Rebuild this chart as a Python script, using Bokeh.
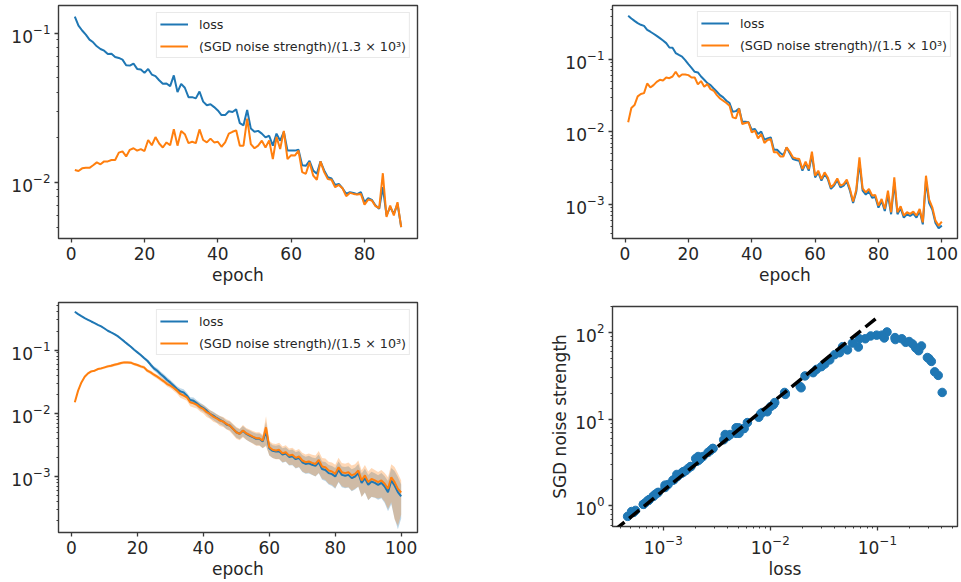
from bokeh.plotting import figure
from bokeh.models import Range1d, FixedTicker, LogTickFormatter, Legend, LegendItem
from bokeh.layouts import row, column
from bokeh.embed import file_html
from bokeh.resources import INLINE

# ---------------- data ----------------
# panel 1 (top-left): 90 epochs
epochs1 = list(range(1, 91))
loss1 = [0.129, 0.112, 0.104, 0.0975, 0.0903, 0.0867, 0.0815, 0.0782, 0.0762, 0.0724,
         0.0728, 0.0692, 0.0681, 0.0664, 0.0608, 0.0605, 0.0625, 0.0575, 0.0570, 0.0541,
         0.0575, 0.0527, 0.0514, 0.0483, 0.0457, 0.0459, 0.0441, 0.0520, 0.0402, 0.0457,
         0.0430, 0.0372, 0.0372, 0.0365, 0.0406, 0.0347, 0.0328, 0.0333, 0.0319, 0.0303,
         0.0282, 0.0282, 0.0299, 0.0296, 0.0308, 0.0249, 0.0241, 0.0305, 0.0229, 0.0218,
         0.0221, 0.0212, 0.0200, 0.0205, 0.0176, 0.0212, 0.0190, 0.0218, 0.0163, 0.0163,
         0.0163, 0.0165, 0.0130, 0.0129, 0.0139, 0.0120, 0.0114, 0.0138, 0.0120, 0.0108,
         0.0106, 0.00960, 0.00975, 0.00912, 0.00836, 0.00858, 0.00849, 0.00832, 0.00858, 0.00736,
         0.00782, 0.00762, 0.00699, 0.00664, 0.00927, 0.00600, 0.00681, 0.00615, 0.00717, 0.00501]
noise1 = [0.0121, 0.0119, 0.0124, 0.0125, 0.0125, 0.0130, 0.0136, 0.0132, 0.0138, 0.0138,
          0.0141, 0.0141, 0.0158, 0.0161, 0.0149, 0.0165, 0.0169, 0.0163, 0.0167, 0.0162,
          0.0192, 0.0177, 0.0201, 0.0182, 0.0171, 0.0185, 0.0177, 0.0227, 0.0176, 0.0221,
          0.0210, 0.0183, 0.0187, 0.0183, 0.0226, 0.0192, 0.0185, 0.0196, 0.0185, 0.0187,
          0.0173, 0.0185, 0.0212, 0.0218, 0.0223, 0.0176, 0.0176, 0.0267, 0.0180, 0.0169,
          0.0176, 0.0190, 0.0171, 0.0191, 0.0143, 0.0201, 0.0167, 0.0221, 0.0143, 0.0152,
          0.0151, 0.0163, 0.0117, 0.0114, 0.0136, 0.0111, 0.0104, 0.0138, 0.0117, 0.0105,
          0.0104, 0.00927, 0.00960, 0.00912, 0.00807, 0.00849, 0.00836, 0.00828, 0.00836, 0.00707,
          0.00766, 0.00755, 0.00692, 0.00671, 0.0115, 0.00585, 0.00699, 0.00600, 0.00736, 0.00501]
label1 = "(SGD noise strength)/(1.3 × 10³)"

# panel 2 (top-right): 100 epochs; also used for the scatter (panel 4)
epochs2 = list(range(1, 101))
loss2 = [0.403, 0.370, 0.343, 0.319, 0.303, 0.293, 0.258, 0.243, 0.228, 0.213,
         0.198, 0.184, 0.169, 0.147, 0.146, 0.123, 0.116, 0.110, 0.0984, 0.0866,
         0.0770, 0.0678, 0.0664, 0.0584, 0.0526, 0.0473, 0.0444, 0.0399, 0.0359, 0.0323,
         0.0300, 0.0270, 0.0251, 0.0190, 0.0194, 0.0211, 0.0138, 0.0138, 0.0136, 0.0107,
         0.0110, 0.00935, 0.0101, 0.00780, 0.00814, 0.00841, 0.00568, 0.00568, 0.00511, 0.00479,
         0.00611, 0.00505, 0.00422, 0.00408, 0.00400, 0.00291, 0.00367, 0.00291, 0.00479, 0.00235,
         0.00276, 0.00212, 0.00262, 0.00223, 0.00163, 0.00181, 0.00216, 0.00171, 0.00181, 0.00207,
         0.00154, 0.00104, 0.00149, 0.00379, 0.00154, 0.00136, 0.00151, 0.00123, 0.00126, 0.000898,
         0.00111, 0.000807, 0.00134, 0.000727, 0.00201, 0.000727, 0.000879, 0.000653, 0.000727, 0.000689,
         0.000741, 0.000653, 0.000807, 0.000528, 0.00212, 0.00104, 0.000843, 0.000551, 0.000465, 0.000506]
noise2 = [0.0136, 0.0214, 0.0235, 0.0310, 0.0334, 0.0344, 0.0468, 0.0412, 0.0444, 0.0493,
          0.0526, 0.0515, 0.0566, 0.0554, 0.0584, 0.0678, 0.0578, 0.0623, 0.0623, 0.0610,
          0.0566, 0.0566, 0.0454, 0.0505, 0.0421, 0.0458, 0.0391, 0.0371, 0.0323, 0.0290,
          0.0270, 0.0251, 0.0230, 0.0159, 0.0154, 0.0211, 0.0129, 0.0133, 0.0136, 0.00984,
          0.0104, 0.00814, 0.00935, 0.00703, 0.00773, 0.00798, 0.00522, 0.00522, 0.00459, 0.00459,
          0.00611, 0.00532, 0.00445, 0.00431, 0.00422, 0.00307, 0.00387, 0.00307, 0.00532, 0.00248,
          0.00291, 0.00223, 0.00276, 0.00235, 0.00171, 0.00190, 0.00228, 0.00181, 0.00190, 0.00219,
          0.00163, 0.00109, 0.00159, 0.00445, 0.00166, 0.00146, 0.00163, 0.00132, 0.00134, 0.000958,
          0.00118, 0.000861, 0.00154, 0.000775, 0.00235, 0.000775, 0.000937, 0.000697, 0.000775, 0.000735,
          0.000791, 0.000697, 0.000861, 0.000562, 0.00248, 0.00116, 0.000908, 0.000593, 0.000506, 0.000575]
noise_scale2 = 1500.0
label2 = "(SGD noise strength)/(1.5 × 10³)"

# panel 3 (bottom-left): mean curves and relative spread of the bands
epochs3 = list(range(1, 101))
loss3 = [0.403, 0.370, 0.344, 0.320, 0.301, 0.283, 0.267, 0.251, 0.236, 0.219,
         0.202, 0.190, 0.179, 0.166, 0.151, 0.137, 0.124, 0.113, 0.101, 0.0918,
         0.0832, 0.0746, 0.0677, 0.0586, 0.0513, 0.0471, 0.0418, 0.0379, 0.0336, 0.0305,
         0.0273, 0.0242, 0.0222, 0.0214, 0.0190, 0.0162, 0.0158, 0.0144, 0.0130, 0.0121,
         0.0110, 0.00975, 0.00918, 0.00843, 0.00785, 0.00739, 0.00663, 0.00639, 0.00566, 0.00501,
         0.00472, 0.00530, 0.00472, 0.00444, 0.00418, 0.00394, 0.00394, 0.00357, 0.00520, 0.00280,
         0.00254, 0.00248, 0.00251, 0.00222, 0.00231, 0.00204, 0.00209, 0.00188, 0.00197, 0.00168,
         0.00158, 0.00162, 0.00153, 0.00147, 0.00168, 0.00131, 0.00127, 0.00113, 0.00109, 0.00100,
         0.00127, 0.00106, 0.00103, 0.00106, 0.000942, 0.00100, 0.00113, 0.000794, 0.000942, 0.000738,
         0.000833, 0.000794, 0.000738, 0.000794, 0.000695, 0.000565, 0.000865, 0.000721, 0.000565, 0.000483]
noise3 = [0.0149, 0.0228, 0.0308, 0.0379, 0.0428, 0.0460, 0.0471, 0.0501, 0.0513, 0.0532,
          0.0552, 0.0565, 0.0586, 0.0600, 0.0622, 0.0638, 0.0638, 0.0631, 0.0600, 0.0579,
          0.0552, 0.0532, 0.0471, 0.0444, 0.0407, 0.0379, 0.0348, 0.0320, 0.0290, 0.0273,
          0.0251, 0.0228, 0.0202, 0.0190, 0.0179, 0.0149, 0.0144, 0.0137, 0.0124, 0.0117,
          0.0104, 0.00975, 0.00885, 0.00833, 0.00766, 0.00739, 0.00680, 0.00639, 0.00566, 0.00501,
          0.00472, 0.00535, 0.00483, 0.00455, 0.00428, 0.00403, 0.00403, 0.00370, 0.00600, 0.00290,
          0.00264, 0.00257, 0.00264, 0.00233, 0.00242, 0.00214, 0.00220, 0.00197, 0.00207, 0.00179,
          0.00168, 0.00173, 0.00164, 0.00158, 0.00183, 0.00144, 0.00140, 0.00124, 0.00120, 0.00110,
          0.00140, 0.00117, 0.00113, 0.00117, 0.00104, 0.00110, 0.00124, 0.000865, 0.00104, 0.000813,
          0.000918, 0.000865, 0.000813, 0.000865, 0.000766, 0.000638, 0.000975, 0.000813, 0.000638, 0.000558]
loss3_rstd = [0.015, 0.015, 0.015, 0.015, 0.015, 0.015, 0.015, 0.015, 0.015, 0.015,
              0.02, 0.02, 0.02, 0.02, 0.02, 0.02, 0.02, 0.02, 0.02, 0.02,
              0.04, 0.05, 0.06, 0.07, 0.08, 0.09, 0.10, 0.10, 0.10, 0.10,
              0.10, 0.11, 0.12, 0.12, 0.11, 0.11, 0.12, 0.12, 0.13, 0.13,
              0.13, 0.14, 0.15, 0.15, 0.15, 0.15, 0.16, 0.16, 0.17, 0.18,
              0.18, 0.19, 0.19, 0.20, 0.20, 0.21, 0.21, 0.22, 0.40, 0.23,
              0.23, 0.24, 0.25, 0.26, 0.26, 0.27, 0.28, 0.29, 0.29, 0.30,
              0.30, 0.31, 0.31, 0.32, 0.33, 0.32, 0.33, 0.34, 0.35, 0.36,
              0.36, 0.36, 0.37, 0.37, 0.38, 0.38, 0.39, 0.40, 0.41, 0.43,
              0.43, 0.42, 0.42, 0.43, 0.45, 0.50, 0.58, 0.70, 0.74, 0.55]
noise3_rstd = [0.03, 0.03, 0.035, 0.04, 0.04, 0.04, 0.04, 0.04, 0.045, 0.045,
               0.05, 0.05, 0.05, 0.05, 0.05, 0.05, 0.05, 0.05, 0.05, 0.05,
               0.055, 0.06, 0.065, 0.07, 0.07, 0.075, 0.08, 0.08, 0.085, 0.09,
               0.10, 0.11, 0.13, 0.12, 0.12, 0.13, 0.14, 0.13, 0.14, 0.15,
               0.16, 0.16, 0.17, 0.16, 0.18, 0.18, 0.18, 0.19, 0.20, 0.21,
               0.21, 0.22, 0.21, 0.22, 0.23, 0.24, 0.24, 0.24, 0.50, 0.26,
               0.26, 0.27, 0.29, 0.28, 0.29, 0.29, 0.30, 0.31, 0.32, 0.33,
               0.33, 0.34, 0.35, 0.36, 0.38, 0.36, 0.37, 0.38, 0.39, 0.40,
               0.41, 0.40, 0.41, 0.42, 0.43, 0.42, 0.44, 0.45, 0.46, 0.48,
               0.48, 0.46, 0.45, 0.46, 0.48, 0.52, 0.60, 0.74, 0.74, 0.55]
label3 = "(SGD noise strength)/(1.5 × 10³)"

# panel 4 (bottom-right): fitted line  noise = fit_coef * loss
fit_coef = 1500.0
fit_loss = [3.5e-4, 0.1]

# tick labels / positions
epoch_ticks1 = [0, 20, 40, 60, 80]
epoch_ticks = [0, 20, 40, 60, 80, 100]

# ---------------- style ----------------
BLUE = "#1f77b4"
ORANGE = "#ff7f0e"
FONT = "DejaVu Sans"
INK = "#262626"
LW = 2.0


def decade_minors(k0, k1):
    return [m * 10.0 ** k for k in range(k0, k1 + 1) for m in range(2, 10)]


def make_fig(w, h, xr, yr, left, right, top, bottom, x_log=False):
    p = figure(width=w, height=h, x_range=xr, y_range=yr,
               x_axis_type="log" if x_log else "linear", y_axis_type="log",
               output_backend="svg", toolbar_location=None,
               min_border_left=left, min_border_right=right,
               min_border_top=top, min_border_bottom=bottom)
    p.outline_line_color = "#3a3a3a"
    p.outline_line_width = 1.4
    p.grid.visible = False
    p.background_fill_color = "white"
    p.border_fill_color = "white"
    for ax in p.axis:
        ax.axis_line_color = None
        ax.major_tick_line_color = "#3a3a3a"
        ax.major_tick_line_width = 1.3
        ax.minor_tick_line_color = "#3a3a3a"
        ax.minor_tick_line_width = 1.0
        ax.major_tick_in = 0
        ax.major_tick_out = 4
        ax.minor_tick_in = 0
        ax.minor_tick_out = 2
        ax.major_label_text_font = FONT
        ax.major_label_text_font_size = "17px"
        ax.major_label_text_color = INK
        ax.axis_label_text_font = FONT
        ax.axis_label_text_font_size = "17px"
        ax.axis_label_text_font_style = "normal"
        ax.axis_label_text_color = INK
        ax.major_label_standoff = 4
        ax.axis_label_standoff = 2
    return p


def log_axis(ax, majors, minors):
    ax.ticker = FixedTicker(ticks=majors, minor_ticks=minors)
    ax.formatter = LogTickFormatter()


def lin_axis(ax, majors):
    ax.ticker = FixedTicker(ticks=majors, minor_ticks=[])


def add_legend(p, items, margin):
    lg = Legend(items=items, location="top_right")
    lg.margin = margin
    lg.padding = 3
    lg.spacing = 6
    lg.glyph_width = 28
    lg.glyph_height = 16
    lg.label_height = 16
    lg.label_standoff = 11
    lg.label_text_font = FONT
    lg.label_text_font_size = "12.7px"
    lg.label_text_color = INK
    lg.border_line_color = "#d4d4d4"
    lg.border_line_width = 1
    lg.background_fill_alpha = 0.85
    p.add_layout(lg)


# ---------------- panel 1 ----------------
p1 = make_fig(437, 290, Range1d(-3.45, 94.45), Range1d(0.0042, 0.153), 58, 20, 5, 52)
r1a = p1.line(epochs1, loss1, line_color=BLUE, line_width=LW)
r1b = p1.line(epochs1, noise1, line_color=ORANGE, line_width=LW)
lin_axis(p1.xaxis[0], epoch_ticks1)
log_axis(p1.yaxis[0], [0.01, 0.1], decade_minors(-3, -1))
p1.xaxis.axis_label = "epoch"
add_legend(p1, [LegendItem(label="loss", renderers=[r1a]),
                LegendItem(label=label1, renderers=[r1b])], 7)

# ---------------- panel 2 ----------------
p2 = make_fig(523, 290, Range1d(-3.95, 104.95), Range1d(3.36e-4, 0.56), 166, 1, 5, 52)
r2a = p2.line(epochs2, loss2, line_color=BLUE, line_width=LW)
r2b = p2.line(epochs2, noise2, line_color=ORANGE, line_width=LW)
lin_axis(p2.xaxis[0], epoch_ticks)
log_axis(p2.yaxis[0], [0.001, 0.01, 0.1], decade_minors(-4, -1))
p2.xaxis.axis_label = "epoch"
add_legend(p2, [LegendItem(label="loss", renderers=[r2a]),
                LegendItem(label=label2, renderers=[r2b])], 6)

# ---------------- panel 3 ----------------
p3 = make_fig(437, 291, Range1d(-3.95, 104.95), Range1d(1.3e-4, 0.565), 58, 20, 12, 49)
loss3_lo = [m * (1 - r) for m, r in zip(loss3, loss3_rstd)]
loss3_hi = [m * (1 + r) for m, r in zip(loss3, loss3_rstd)]
noise3_lo = [m * (1 - r) for m, r in zip(noise3, noise3_rstd)]
noise3_hi = [m * (1 + r) for m, r in zip(noise3, noise3_rstd)]
p3.varea(x=epochs3, y1=loss3_lo, y2=loss3_hi, fill_color=BLUE, fill_alpha=0.3)
p3.varea(x=epochs3, y1=noise3_lo, y2=noise3_hi, fill_color=ORANGE, fill_alpha=0.3)
r3a = p3.line(epochs3, loss3, line_color=BLUE, line_width=LW)
r3b = p3.line(epochs3, noise3, line_color=ORANGE, line_width=LW)
lin_axis(p3.xaxis[0], epoch_ticks)
log_axis(p3.yaxis[0], [0.001, 0.01, 0.1], decade_minors(-4, -1))
p3.xaxis.axis_label = "epoch"
add_legend(p3, [LegendItem(label="loss", renderers=[r3a]),
                LegendItem(label=label3, renderers=[r3b])], 7)

# ---------------- panel 4 ----------------
p4 = make_fig(523, 291, Range1d(3.36e-4, 0.56), Range1d(0.58, 200), 175, 3, 16, 48, x_log=True)
sgd_noise2 = [v * noise_scale2 for v in noise2]
p4.scatter(loss2, sgd_noise2, size=8.5, fill_color=BLUE, line_color=BLUE)
p4.line(fit_loss, [fit_coef * v for v in fit_loss], line_color="black", line_width=3.5,
        line_dash="13 6")
log_axis(p4.xaxis[0], [0.001, 0.01, 0.1], decade_minors(-4, -1))
log_axis(p4.yaxis[0], [1, 10, 100], decade_minors(-1, 2))
p4.xaxis.axis_label = "loss"
p4.yaxis.axis_label = "SGD noise strength"

layout = row(column(p1, p3), column(p2, p4))
open("out.html", "w").write(file_html(layout, INLINE))
